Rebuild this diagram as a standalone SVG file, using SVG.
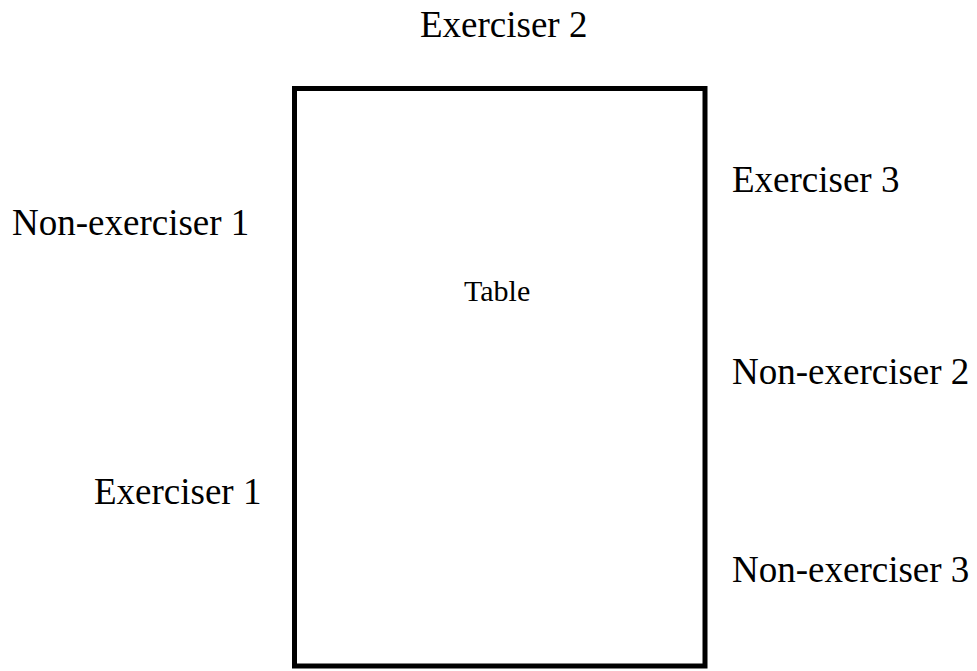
<svg xmlns="http://www.w3.org/2000/svg" width="977" height="671" viewBox="0 0 977 671">
<style>
.lbl{font-family:"Liberation Serif","Times New Roman",serif;font-size:37px;fill:#000}
.tbl{font-family:"Liberation Serif","Times New Roman",serif;font-size:30px;fill:#000}
</style>
<rect width="977" height="671" fill="#fff"/>
<g id="table">
<rect x="294.5" y="88.5" width="410.5" height="577.5" fill="none" stroke="#000" stroke-width="5"/>
<text class="tbl" x="464" y="301">Table</text>
</g>
<g id="exerciser2"><text class="lbl" x="420" y="37">Exerciser 2</text></g>
<g id="nonexerciser1"><text class="lbl" x="12" y="235">Non-exerciser 1</text></g>
<g id="exerciser3"><text class="lbl" x="732" y="192">Exerciser 3</text></g>
<g id="nonexerciser2"><text class="lbl" x="732" y="384">Non-exerciser 2</text></g>
<g id="exerciser1"><text class="lbl" x="94" y="504">Exerciser 1</text></g>
<g id="nonexerciser3"><text class="lbl" x="732" y="582">Non-exerciser 3</text></g>
<g id="connectors"></g>
</svg>
